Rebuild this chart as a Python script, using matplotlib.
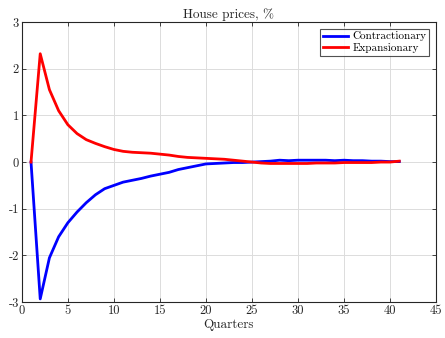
import numpy as np
import matplotlib.pyplot as plt

plt.rcParams['font.family'] = 'serif'
plt.rcParams['font.serif'] = ['cmr10', 'DejaVu Serif']
plt.rcParams['mathtext.fontset'] = 'cm'
plt.rcParams['axes.unicode_minus'] = False

# Impulse responses of house prices (%) by quarter
quarters = np.arange(1, 42)
contractionary = [0.00, -2.93, -2.05, -1.60, -1.30, -1.07, -0.87, -0.70, -0.57, -0.50,
                  -0.43, -0.39, -0.35, -0.30, -0.26, -0.22, -0.16, -0.12, -0.08, -0.04,
                  -0.03, -0.02, -0.01, -0.01, 0.00, 0.01, 0.02, 0.04, 0.03, 0.04,
                  0.04, 0.04, 0.04, 0.03, 0.04, 0.03, 0.03, 0.02, 0.02, 0.01, 0.01]
expansionary = [0.00, 2.32, 1.55, 1.10, 0.80, 0.61, 0.48, 0.40, 0.33, 0.27,
                0.23, 0.21, 0.20, 0.19, 0.17, 0.15, 0.12, 0.10, 0.09, 0.08,
                0.07, 0.06, 0.04, 0.02, 0.00, -0.02, -0.03, -0.03, -0.03, -0.03,
                -0.03, -0.02, -0.02, -0.02, -0.01, -0.01, -0.01, -0.01, 0.00, 0.00, 0.02]

fig = plt.figure(figsize=(4.45, 3.38), dpi=100)
ax = fig.add_axes([0.049, 0.106, 0.931, 0.829])

ax.plot(quarters, contractionary, color='#0000ff', linewidth=2.0, label='Contractionary')
ax.plot(quarters, expansionary, color='#ff0000', linewidth=2.0, label='Expansionary')

ax.set_xlim(0, 45)
ax.set_ylim(-3, 3)
ax.set_xticks(np.arange(0, 46, 5))
ax.set_yticks(np.arange(-3, 4, 1))
ax.grid(True, color='#dcdcdc', linewidth=0.7)
ax.set_axisbelow(True)
ax.tick_params(direction='in', top=True, right=True, length=3, width=0.6,
               labelsize=9, colors='#262626', pad=2)
for s in ax.spines.values():
    s.set_linewidth(0.8)
    s.set_color('#262626')

ax.set_title('House prices, %', fontsize=9.5, color='#262626', pad=3)
ax.set_xlabel('Quarters', fontsize=9.5, color='#262626', labelpad=1)

leg = ax.legend(loc='upper right', fontsize=8, frameon=True, fancybox=False,
                handlelength=2.3, borderpad=0.25, labelspacing=0.15,
                handletextpad=0.4, borderaxespad=0.6)
leg.get_frame().set_edgecolor('#262626')
leg.get_frame().set_linewidth(0.8)

fig.savefig('out.png', dpi=100)
